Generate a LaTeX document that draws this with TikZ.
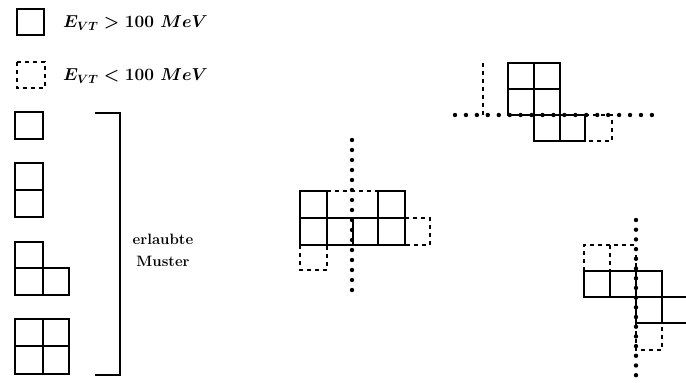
\documentclass[tikz,border=0pt]{standalone}
\usepackage{amsmath}
\begin{document}
\begin{tikzpicture}[x=1pt,y=-1pt,
  cellline/.style={line width=2.4pt,line join=miter},
  softline/.style={line width=1.2pt,dash pattern=on 4pt off 4pt},
  dotrow/.style={line width=4.4pt,line cap=round,dash pattern=on 0pt off #1},
  label/.style={font=\fontsize{16.5}{19}\selectfont\bfseries\boldmath,inner sep=0pt},
  wordlabel/.style={font=\fontsize{15}{17}\selectfont\bfseries,inner sep=0pt}]
\useasboundingbox (0,0) rectangle (686,383);

% legend
\draw[cellline] (17,9) rectangle (44,35);
\node[label,anchor=west] (hi) at (63,23) {$E_{VT} > 100\ MeV$};
\draw[softline] (17,62) rectangle (45,88);
\node[label,anchor=west] (lo) at (63,76) {$E_{VT} < 100\ MeV$};

% allowed patterns
\draw[cellline] (15,112) rectangle (43,139);
\draw[cellline] (15,163) rectangle (43,217) (15,190) -- (43,190);
\draw[cellline] (15,242) rectangle (43,295) (15,268) -- (69,268) -- (69,295) -- (43,295) (43,268) -- (43,295);
\draw[cellline] (15,319) rectangle (69,374) (43,319) -- (43,374) (15,346) -- (69,346);

% bracket
\draw[line width=1.3pt] (95,113) -- (120,113) -- (120,375) -- (95,375);
\node[wordlabel,align=center] (muster) at (163,250) {erlaubte\\[5pt]Muster};

% middle cluster
\draw[softline] (327,191) -- (378,191);
\draw[softline] (405,218) -- (430,218) -- (430,245) -- (405,245);
\draw[softline] (300,245) -- (300,270) -- (327,270) -- (327,245);
\draw[cellline] (300,191) rectangle (327,245) (300,218) -- (405,218) (300,245) -- (405,245)
  (353,218) -- (353,245) (378,191) rectangle (405,245);
\draw[dotrow=10pt] (352,140) -- (352,300);

% upper right cluster
\draw[softline] (483,63) -- (483,115);
\draw[softline] (585,115) -- (612,115) -- (612,141) -- (585,141);
\draw[cellline] (508,63) rectangle (560,115) (534,63) -- (534,115) (508,89) -- (560,89)
  (534,115) rectangle (585,141) (560,115) -- (560,141);
\draw[dotrow=10.94pt] (455,115) -- (652,115);

% lower right cluster
\draw[softline] (584,271) -- (584,245) -- (636,245) -- (636,271) (610,245) -- (610,271);
\draw[softline] (636,323) -- (636,350) -- (662,350) -- (662,323);
\draw[cellline] (584,271) rectangle (662,297) (610,271) -- (610,297) (636,271) -- (636,297)
  (636,297) rectangle (688,323) (662,297) -- (662,323);
\draw[dotrow=9.7pt] (636,220) -- (636,376);
\end{tikzpicture}
\end{document}
